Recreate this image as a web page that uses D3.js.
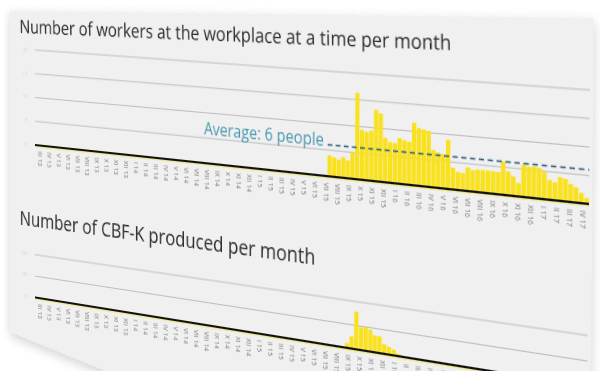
<!DOCTYPE html>
<html><head><meta charset="utf-8">
<script src="https://cdn.jsdelivr.net/npm/d3@7"></script>
<style>
html,body{margin:0;padding:0;background:#fff;overflow:hidden;width:600px;height:371px}
#card{position:absolute;left:0;top:0;transform-origin:0 0;}
</style></head><body>
<svg id="card" width="760" height="460"></svg>
<script>
// ---------------- data ----------------
const romanMonths = ["I","II","III","IV","V","VI","VII","VIII","IX","X","XI","XII"];
const startMonth = 2;   // III
const startYear = 13;
const monthCount = 50;  // tick labels along the x axis
const nSlots = 124;     // bar periods along the x axis
const workersStart = 71;
const workers = [4.0,3.7,3.4,3.9,3.4,4.9,16.3,9.4,9.1,9.4,13.4,12.8,8.3,7.6,7.5,8.5,8.2,8.0,11.6,10.7,
  10.5,10.3,6.9,6.5,6.3,9.0,4.0,3.3,3.2,4.3,3.9,4.1,4.1,4.1,4.1,4.0,6.0,4.3,3.5,2.4,
  5.8,5.5,5.6,5.5,4.8,3.5,3.2,4.2,4.0,3.2,2.7,1.8,1.0];
const workerTicks = [0,5,10,15,20];
const workerAverage = 6;
const averageLabel = "Average: 6 people";
const cbfStart = 75;
const cbf = [10,26,79,48,49,46,35,35,20,16,12,5];
const cbfTicks = [0,50,100];
const title1 = "Number of workers at the workplace at a time per month";
const title2 = "Number of CBF-K produced per month";

const monthLabels = d3.range(monthCount).map(i => {
  const m = (startMonth + i) % 12, y = startYear + Math.floor((startMonth + i) / 12);
  return romanMonths[m] + " " + y;
});

// ---------------- layout (flat card) ----------------
const ox = 60, oy = 70, PW = 600, PH1 = 95;
const c2top = 205, c2base = 248;
const svg = d3.select("#card");

// homography: flat plot rectangle -> photographed quad
function solve(A, b) {
  const n = b.length;
  for (let i = 0; i < n; i++) {
    let p = i;
    for (let r = i + 1; r < n; r++) if (Math.abs(A[r][i]) > Math.abs(A[p][i])) p = r;
    [A[i], A[p]] = [A[p], A[i]]; [b[i], b[p]] = [b[p], b[i]];
    for (let r = i + 1; r < n; r++) {
      const f = A[r][i] / A[i][i];
      for (let c = i; c < n; c++) A[r][c] -= f * A[i][c];
      b[r] -= f * b[i];
    }
  }
  const x = new Array(n).fill(0);
  for (let i = n - 1; i >= 0; i--) {
    let s = b[i];
    for (let c = i + 1; c < n; c++) s -= A[i][c] * x[c];
    x[i] = s / A[i][i];
  }
  return x;
}
function homography(src, dst) {
  const A = [], b = [];
  for (let i = 0; i < 4; i++) {
    const [x, y] = src[i], [u, v] = dst[i];
    A.push([x, y, 1, 0, 0, 0, -u * x, -u * y]); b.push(u);
    A.push([0, 0, 0, x, y, 1, -v * x, -v * y]); b.push(v);
  }
  const h = solve(A, b);
  return `matrix3d(${h[0]},${h[3]},0,${h[6]},${h[1]},${h[4]},0,${h[7]},0,0,1,0,${h[2]},${h[5]},0,1)`;
}
const src = [[ox, oy], [ox + PW, oy], [ox, oy + PH1], [ox + PW, oy + PH1]];
const dst = [[35, 50], [590, 90], [35, 145], [589, 204]];
svg.style("transform", homography(src, dst));

// card background
const defs = svg.append("defs");
const f = defs.append("filter").attr("id", "sh").attr("x", "-10%").attr("y", "-10%").attr("width", "130%").attr("height", "130%");
f.append("feGaussianBlur").attr("in", "SourceAlpha").attr("stdDeviation", 6);
f.append("feOffset").attr("dx", 0).attr("dy", 4).attr("result", "o");
f.append("feComponentTransfer").append("feFuncA").attr("type", "linear").attr("slope", 0.18);
const fm = f.append("feMerge"); fm.append("feMergeNode"); fm.append("feMergeNode").attr("in", "SourceGraphic");
svg.append("path")
  .attr("d", `M${ox-33},${oy-38} L${ox+603},${oy-60} L${ox+603},${oy+400} L${ox-33},${oy+287} Z`)
  .attr("fill", "#f0f0f0").attr("filter", "url(#sh)");

const g = svg.append("g").attr("transform", `translate(${ox},${oy})`);
const font = "'Open Sans', Lato, sans-serif";

const x = d3.scaleBand().domain(d3.range(nSlots)).range([0, PW]).paddingInner(0.12);
const xl = d3.scalePoint().domain(monthLabels).range([0, PW]).padding(0.5);

// ---------- chart 1 ----------
g.append("text").text(title1)
  .attr("transform", `translate(-20,-16) rotate(-1.15)`)
  .attr("font-family", font).attr("font-size", 18.4).attr("fill", "#2c2c2c");

const y1 = d3.scaleLinear().domain([0, 20]).range([PH1, 0]);
const c1 = g.append("g");
c1.selectAll("line.grid").data(workerTicks.slice(1)).join("line")
  .attr("x1", 0).attr("x2", PW).attr("y1", d => y1(d)).attr("y2", d => y1(d))
  .attr("stroke", "#bebebe").attr("stroke-width", 1.1);
c1.selectAll("text.yt").data(workerTicks).join("text")
  .attr("x", -10).attr("y", d => y1(d) + 2).attr("text-anchor", "end")
  .attr("font-family", font).attr("font-size", 5).attr("fill", "#d4d4d4").text(d => d);
c1.selectAll("rect").data(workers).join("rect")
  .attr("x", (d, i) => x(workersStart + i)).attr("width", x.bandwidth())
  .attr("y", d => y1(d)).attr("height", d => y1(0) - y1(d)).attr("fill", "#f9e11b");
c1.append("line").attr("x1", 0).attr("x2", PW).attr("y1", y1(0) + 1.6).attr("y2", y1(0) + 1.6)
  .attr("stroke", "#ece58f").attr("stroke-width", 1.2);
c1.append("line").attr("x1", 0).attr("x2", PW).attr("y1", y1(0)).attr("y2", y1(0))
  .attr("stroke", "#111").attr("stroke-width", 2.2);
c1.append("line").attr("x1", 344).attr("x2", PW).attr("y1", y1(workerAverage)).attr("y2", y1(workerAverage))
  .attr("stroke", "#2f5f78").attr("stroke-width", 1.6).attr("stroke-dasharray", "5,3.5");
c1.append("text").text(averageLabel).attr("x", 340).attr("y", y1(workerAverage) + 1.5)
  .attr("text-anchor", "end").attr("font-family", font).attr("font-size", 16).attr("fill", "#4a98ae");
c1.selectAll("text.xl").data(monthLabels).join("text")
  .attr("transform", d => `translate(${xl(d) - 2.2},${PH1 + 6}) rotate(90)`)
  .attr("font-family", font).attr("font-size", 6.6).attr("fill", "#7a7a7a").text(d => d);

// ---------- chart 2 ----------
const c2 = g.append("g");
c2.append("text").text(title2).attr("x", -20).attr("y", 177)
  .attr("font-family", font).attr("font-size", 19.5).attr("fill", "#2c2c2c");
const y2 = d3.scaleLinear().domain([0, 100]).range([c2base, c2top]);
c2.selectAll("line.grid").data(cbfTicks.slice(1)).join("line")
  .attr("x1", 0).attr("x2", PW).attr("y1", d => y2(d)).attr("y2", d => y2(d))
  .attr("stroke", "#bebebe").attr("stroke-width", 1.1);
c2.selectAll("text.yt").data(cbfTicks).join("text")
  .attr("x", -10).attr("y", d => y2(d) + 2).attr("text-anchor", "end")
  .attr("font-family", font).attr("font-size", 5).attr("fill", "#d4d4d4").text(d => d);
c2.selectAll("rect").data(cbf).join("rect")
  .attr("x", (d, i) => x(cbfStart + i)).attr("width", x.bandwidth())
  .attr("y", d => y2(d)).attr("height", d => y2(0) - y2(d)).attr("fill", "#f9e11b");
c2.append("line").attr("x1", 0).attr("x2", PW).attr("y1", y2(0) + 1.6).attr("y2", y2(0) + 1.6)
  .attr("stroke", "#ece58f").attr("stroke-width", 1.2);
c2.append("line").attr("x1", 0).attr("x2", PW).attr("y1", y2(0)).attr("y2", y2(0))
  .attr("stroke", "#111").attr("stroke-width", 2.2);
c2.selectAll("text.xl").data(monthLabels).join("text")
  .attr("transform", d => `translate(${xl(d) - 2.2},${c2base + 6}) rotate(90)`)
  .attr("font-family", font).attr("font-size", 6.6).attr("fill", "#7a7a7a").text(d => d);
</script>
</body></html>
